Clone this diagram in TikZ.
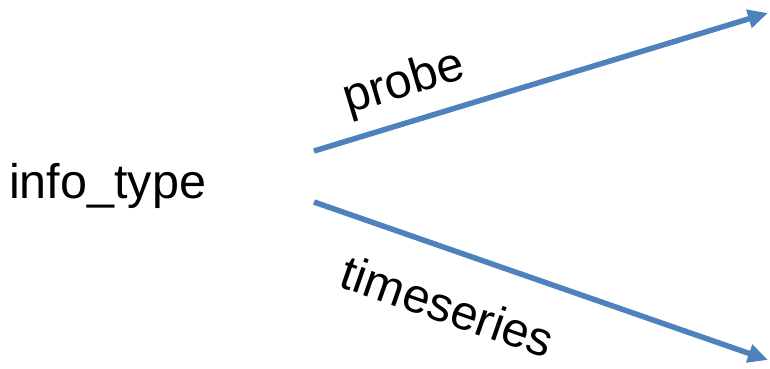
\documentclass[tikz,border=0pt]{standalone}
\usepackage{fontspec}
\setmainfont{Liberation Sans}
\usetikzlibrary{arrows.meta}
\definecolor{arrowblue}{RGB}{79,129,189}
\begin{document}
\begin{tikzpicture}[x=1pt,y=-1pt,
  lbl/.style={font=\fontsize{48.5}{52}\selectfont, inner sep=0pt},
  conn/.style={draw=arrowblue, line width=5.5pt, -{Triangle[length=20pt,width=18pt]}}]
\useasboundingbox (0,0) rectangle (770,368);
\node[lbl, anchor=base west] (src) at (9,198) {info\_type};
\coordinate (s1) at (314,151);
\coordinate (s2) at (314,202);
\coordinate (t1) at (768,13);
\coordinate (t2) at (768,360);
\draw[conn] (s1) -- (t1);
\draw[conn] (s2) -- (t2);
\node[lbl, rotate=16.8] (probe) at (404,84) {probe};
\node[lbl, rotate=-19.2] (ts) at (448,306) {timeseries};
\end{tikzpicture}
\end{document}
